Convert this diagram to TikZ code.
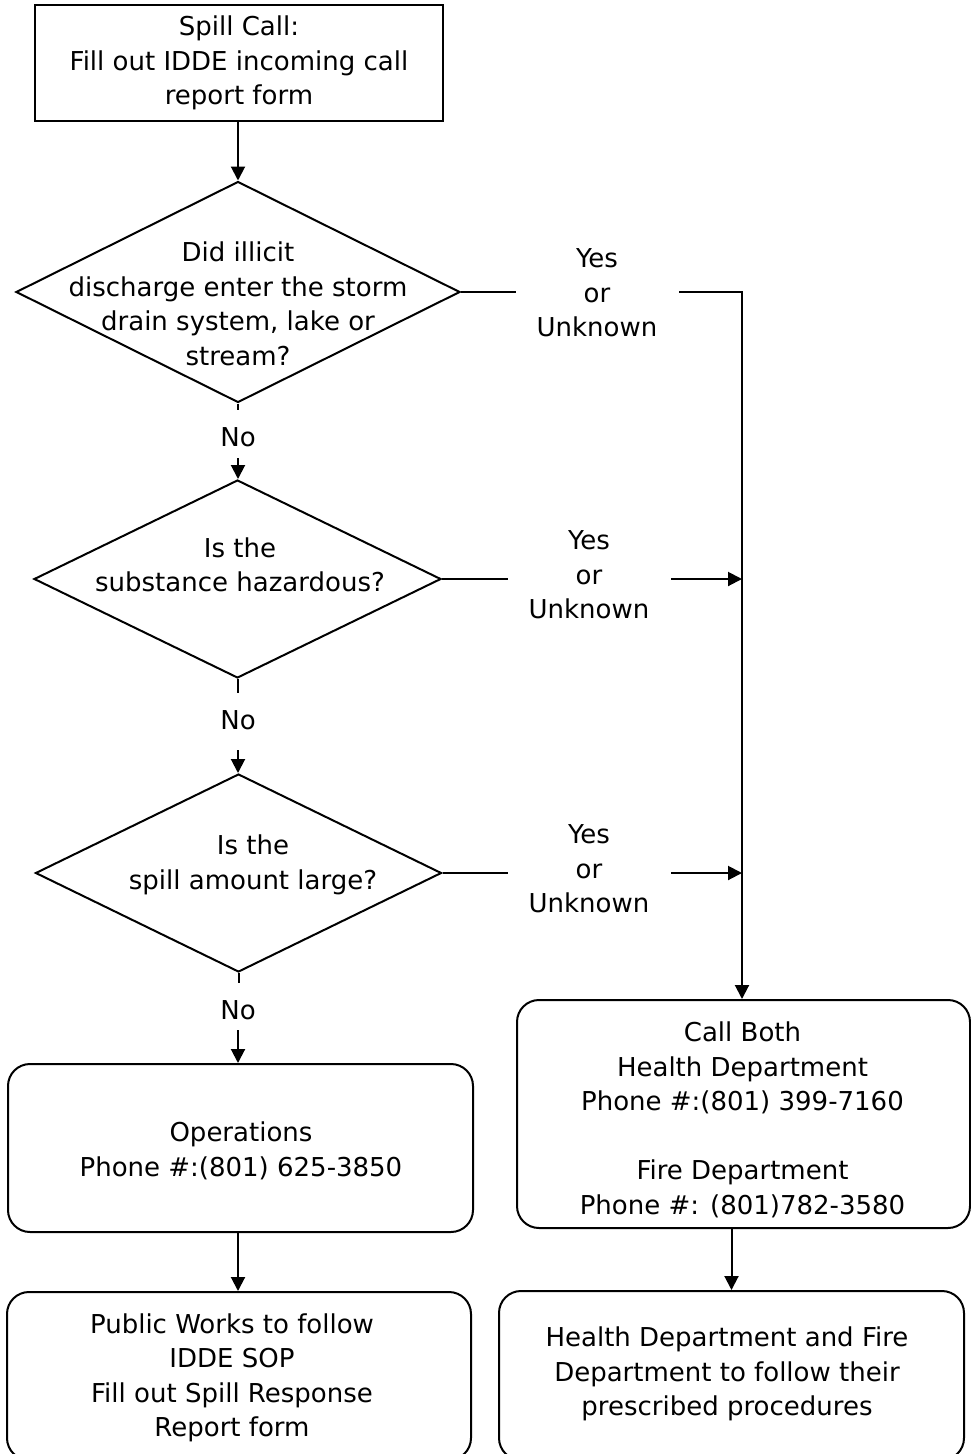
\documentclass[tikz,border=0pt]{standalone}
\usepackage{fontspec}
\setmainfont{DejaVu Sans}
\usetikzlibrary{shapes.geometric,arrows.meta,calc}
\begin{document}
\begin{tikzpicture}[x=1pt,y=-1pt,
  every node/.style={font=\fontsize{26pt}{34.5pt}\selectfont},
  ln/.style={line width=2pt},
  arr/.style={line width=2pt,-{Triangle[length=14pt,width=14pt]}},
  txt/.style={align=center,inner sep=0pt},
  sqbox/.style={draw,line width=2pt,inner sep=0pt,align=center},
  rbox/.style={draw,line width=2pt,rounded corners=22pt,inner sep=0pt},
  dia/.style={draw,diamond,line width=2pt,inner sep=0pt}]
\useasboundingbox (0,0) rectangle (971,1454);
\fill[white] (0,0) rectangle (971,1454);

% start box
\node[sqbox,minimum width=408pt,minimum height=116pt] (b1) at (239,63)
  {Spill Call:\\Fill out IDDE incoming call\\report form};

% diamonds
\node[dia,minimum width=444pt,minimum height=221pt] (d1) at (238,292) {};
\node[txt] (t1) at (238,304) {Did illicit\\discharge enter the storm\\drain system, lake or\\stream?};
\node[dia,minimum width=407pt,minimum height=198pt] (d2) at (237.5,579) {};
\node[txt] (t2) at (240,565) {Is the\\substance hazardous?};
\node[dia,minimum width=406pt,minimum height=198pt] (d3) at (238.5,873) {};
\node[txt] (t3) at (253,865) {Is the\\spill amount large?};

% rounded boxes
\node[rbox,minimum width=465pt,minimum height=168pt] (ops) at (240.5,1148) {};
\node[txt] (tops) at (241,1151) {Operations\\Phone \#:(801) 625-3850};
\node[rbox,minimum width=464pt,minimum height=168pt] (pw) at (239,1376) {};
\node[txt] (tpw) at (232,1378) {Public Works to follow\\IDDE SOP\\Fill out Spill Response\\Report form};
\node[rbox,minimum width=453pt,minimum height=228pt] (cb) at (743.5,1114) {};
\node[txt] (tcb) at (742.5,1120) {Call Both\\Health Department\\Phone \#:(801) 399-7160\\[34.5pt]Fire Department\\Phone \#: (801)782-3580};
\node[rbox,minimum width=465pt,minimum height=169pt] (hd) at (731.5,1375.5) {};
\node[txt] (thd) at (727,1374) {Health Department and Fire\\Department to follow their\\prescribed procedures};

% start -> d1
\draw[arr] (b1.south -| d1.north) -- (d1.north);

% No branches
\coordinate (n1a) at (238,410);
\node[txt] (no1) at (238,437) {No};
\coordinate (n1b) at (238,458);
\draw[ln] (d1.south) -- (n1a);
\draw[arr] (n1b) -- (n1b |- d2.north);

\coordinate (n2a) at (238,693);
\node[txt] (no2) at (238,720) {No};
\coordinate (n2b) at (238,750);
\draw[ln] (d2.south) -- (d2.south |- n2a);
\draw[arr] (n2b) -- (n2b |- d3.north);

\coordinate (n3a) at (238,983);
\node[txt] (no3) at (238,1010) {No};
\coordinate (n3b) at (238,1030);
\draw[ln] (d3.south) -- (d3.south |- n3a);
\draw[arr] (n3b) -- (n3b |- ops.north);

% Yes branches
\coordinate (y1a) at (516,292);
\node[txt] (y1) at (597,293) {Yes\\or\\Unknown};
\coordinate (y1b) at (679,292);
\coordinate (c1) at (742,292);
\draw[ln] (d1.east) -- (y1a);
\draw[arr] (y1b) -- (c1) -- (c1 |- cb.north);

\coordinate (y2a) at (508,579);
\node[txt] (y2) at (589,575) {Yes\\or\\Unknown};
\coordinate (y2b) at (671,579);
\coordinate (c2) at (742,579);
\draw[ln] (d2.east) -- (y2a);
\draw[arr] (y2b) -- (c2);

\coordinate (y3a) at (508,873);
\node[txt] (y3) at (589,869) {Yes\\or\\Unknown};
\coordinate (y3b) at (671,873);
\coordinate (c3) at (742,873);
\draw[ln] (d3.east) -- (y3a);
\draw[arr] (y3b) -- (c3);

% lower arrows
\draw[arr] (ops.south -| n3b) -- (n3b |- pw.north);
\draw[arr] (hd.north |- cb.south) -- (hd.north);
\end{tikzpicture}
\end{document}
